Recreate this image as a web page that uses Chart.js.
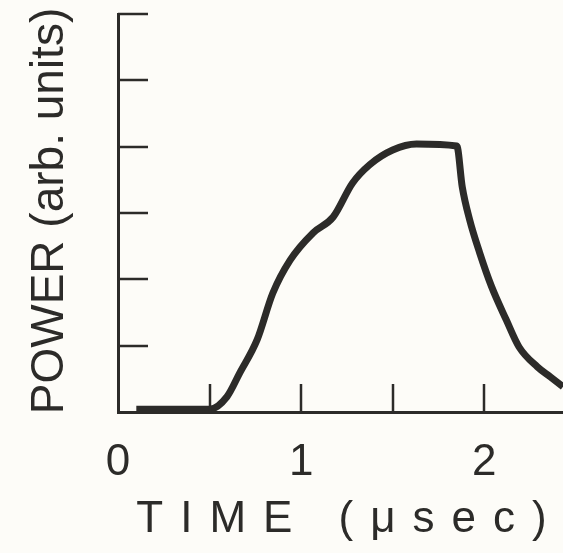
<!DOCTYPE html>
<html>
<head>
<meta charset="utf-8">
<script src="https://cdn.jsdelivr.net/npm/chart.js@4"></script>
<style>
  html, body { margin: 0; padding: 0; background: #fdfcf8; }
  #wrap { width: 563px; height: 553px; }
</style>
</head>
<body>
<div id="wrap"><canvas id="pulse" width="563" height="553"></canvas></div>
<script>
// pulse trace
const timeUs = [0.10, 0.50, 0.595, 0.665, 0.76, 0.845, 0.94, 1.065, 1.175, 1.28, 1.375, 1.50, 1.63, 1.85,
                1.88, 1.92, 1.975, 2.04, 2.12, 2.19, 2.29, 2.36, 2.43];
const power  = [0.04, 0.04, 0.23, 0.59, 1.09, 1.79, 2.29, 2.70, 2.94, 3.45, 3.73, 3.95, 4.04, 4.01,
                3.39, 2.90, 2.40, 1.89, 1.39, 0.98, 0.68, 0.53, 0.38];
const xTickLabels = ['0', '1', '2'];
const xTitle = 'TIME (\u03bcsec)';
const yTitle = 'POWER (arb. units)';

const INK = '#2c2b29';

// inward tick marks + hand-lettered axis titles
const paperAxes = {
  id: 'paperAxes',
  afterDraw(chart) {
    const { ctx, chartArea: a, scales: { x, y } } = chart;
    ctx.save();
    ctx.strokeStyle = INK;
    ctx.lineWidth = 2.5;
    ctx.lineCap = 'butt';
    x.ticks.forEach(t => {
      if (t.value <= 0) return;
      const px = Math.round(x.getPixelForValue(t.value));
      ctx.beginPath(); ctx.moveTo(px, a.bottom); ctx.lineTo(px, a.bottom - 28); ctx.stroke();
    });
    y.ticks.forEach(t => {
      if (t.value <= 0) return;
      const py = Math.round(y.getPixelForValue(t.value));
      ctx.beginPath(); ctx.moveTo(a.left, py); ctx.lineTo(a.left + 30, py); ctx.stroke();
    });

    ctx.fillStyle = INK;
    ctx.textAlign = 'center';
    ctx.textBaseline = 'middle';

    ctx.font = '44px "Liberation Sans", Arial, sans-serif';
    ctx.letterSpacing = '17px';
    ctx.fillText(xTitle, 350, 520);

    ctx.letterSpacing = '0px';
    ctx.translate(50, 211);
    ctx.rotate(-Math.PI / 2);
    ctx.font = '46px "Liberation Sans", Arial, sans-serif';
    ctx.fillText(yTitle, 0, 0);
    ctx.restore();
  }
};

new Chart(document.getElementById('pulse'), {
  type: 'line',
  data: {
    datasets: [{
      data: timeUs.map((t, i) => ({ x: t, y: power[i] })),
      borderColor: INK,
      borderWidth: 7,
      pointRadius: 0,
      cubicInterpolationMode: 'monotone',
      fill: false,
      clip: false
    }]
  },
  options: {
    responsive: false,
    animation: false,
    layout: { padding: { top: 14, right: 0, left: 0, bottom: 0 } },
    plugins: { legend: { display: false }, tooltip: { enabled: false } },
    scales: {
      x: {
        type: 'linear',
        min: 0, max: 2.43,
        grid: { display: false, drawTicks: false },
        border: { color: INK, width: 3 },
        afterFit: s => { s.height = 141; },
        ticks: {
          stepSize: 0.5,
          includeBounds: false,
          autoSkip: false,
          maxRotation: 0,
          padding: 24,
          color: INK,
          font: { family: '"Liberation Sans", Arial, sans-serif', size: 44 },
          callback: v => Number.isInteger(v) ? xTickLabels[v] : ''
        }
      },
      y: {
        min: 0, max: 6,
        grid: { display: false, drawTicks: false },
        border: { color: INK, width: 3 },
        afterFit: s => { s.width = 118; },
        ticks: { stepSize: 1, display: false }
      }
    }
  },
  plugins: [paperAxes]
});
</script>
</body>
</html>
